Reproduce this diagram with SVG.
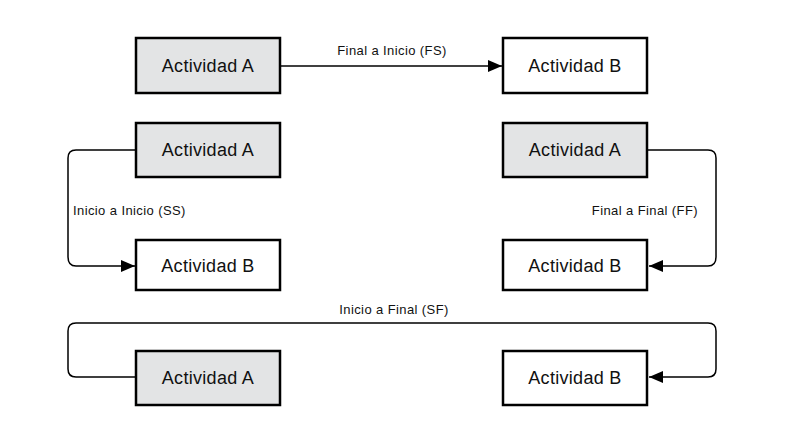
<svg xmlns="http://www.w3.org/2000/svg" width="791" height="446" viewBox="0 0 791 446">
<style>
.a{fill:#e3e4e5;stroke:#000;stroke-width:2.5}
.b{fill:#fff;stroke:#000;stroke-width:2.5}
.t{font-family:"Liberation Sans",Arial,sans-serif;font-size:18px;letter-spacing:0.3px;fill:#111;text-anchor:middle}
.l{font-family:"Liberation Sans",Arial,sans-serif;font-size:13px;letter-spacing:0.4px;fill:#111}
.c{fill:none;stroke:#000;stroke-width:1.5}
</style>
<defs>
<marker id="ar" markerWidth="14" markerHeight="12" refX="14" refY="6" orient="auto" markerUnits="userSpaceOnUse">
<path d="M0,0 L14,6 L0,12 Z" fill="#000"/>
</marker>
</defs>
<rect width="791" height="446" fill="#fff"/>
<g id="connectors">
<path class="c" d="M281,66 H502" marker-end="url(#ar)"/>
<path class="c" d="M135,150 H76 Q68,150 68,158 V257 Q68,266 76,266 H135" marker-end="url(#ar)"/>
<path class="c" d="M648,150 H708 Q716,150 716,158 V257 Q716,266 708,266 H649" marker-end="url(#ar)"/>
<path class="c" d="M135,377 H76 Q68,377 68,369 V331 Q68,323 76,323 H708 Q716,323 716,331 V369 Q716,377 708,377 H649" marker-end="url(#ar)"/>
<text class="l" x="392" y="55" text-anchor="middle">Final a Inicio (FS)</text>
<text class="l" x="73" y="215">Inicio a Inicio (SS)</text>
<text class="l" x="698" y="215" text-anchor="end">Final a Final (FF)</text>
<text class="l" x="394" y="314" text-anchor="middle">Inicio a Final (SF)</text>
</g>
<g id="fs-a"><rect class="a" x="136" y="38" width="144" height="55"/><text class="t" x="208" y="72">Actividad A</text></g>
<g id="fs-b"><rect class="b" x="503" y="38" width="144" height="55"/><text class="t" x="575" y="72">Actividad B</text></g>
<g id="ss-a"><rect class="a" x="136" y="123" width="144" height="54"/><text class="t" x="208" y="156">Actividad A</text></g>
<g id="ss-b"><rect class="b" x="136" y="240" width="144" height="50"/><text class="t" x="208" y="272">Actividad B</text></g>
<g id="ff-a"><rect class="a" x="503" y="123" width="144" height="54"/><text class="t" x="575" y="156">Actividad A</text></g>
<g id="ff-b"><rect class="b" x="503" y="240" width="144" height="50"/><text class="t" x="575" y="272">Actividad B</text></g>
<g id="sf-a"><rect class="a" x="136" y="351" width="144" height="54"/><text class="t" x="208" y="384">Actividad A</text></g>
<g id="sf-b"><rect class="b" x="503" y="351" width="144" height="54"/><text class="t" x="575" y="384">Actividad B</text></g>
</svg>
